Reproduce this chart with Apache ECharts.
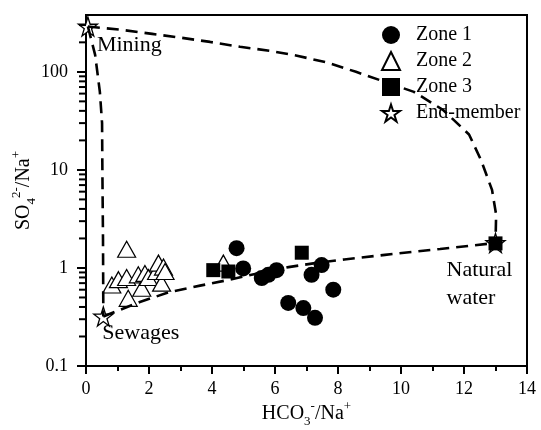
<!DOCTYPE html>
<html><head><meta charset="utf-8">
<script src="https://cdn.jsdelivr.net/npm/echarts@6/dist/echarts.min.js"></script>
<style>html,body{margin:0;padding:0;background:#fff}#c{width:541px;height:430px}</style>
</head><body><div id="c"></div>
<script>
// ---- data ----
const zone1 = [[4.78,1.59],[4.99,0.99],[5.58,0.79],[5.79,0.85],[6.05,0.95],[7.48,1.07],[7.16,0.85],[7.85,0.60],[6.42,0.44],[6.90,0.39],[7.27,0.31]];
const zone2 = [[1.29,1.55],[0.82,0.67],[1.03,0.76],[1.29,0.80],[1.34,0.49],[1.66,0.85],[1.77,0.62],[1.87,0.88],[1.98,0.80],[2.24,0.92],[2.30,1.12],[2.46,1.02],[2.40,0.70],[2.51,0.92],[4.36,1.12]];
const zone3 = [[4.04,0.95],[4.52,0.92],[6.85,1.43],[13.0,1.78]];
const endNames = ['Mining','Sewages','Natural\nwater'];
const endX = [0.06, 0.55, 13.0];
const endY = [290, 0.32, 1.8];
const mixMiningNatural = [[0.06,290],[1.14,268],[2.10,244],[3.05,222],[3.94,202],[4.89,180],[5.84,164],[6.70,146],[7.68,124],[8.57,100],[10.41,62.5],[11.33,41],[12.16,23],[12.54,12.6],[12.89,6.25],[13.02,3.5],[13.0,1.8]];
const mixMiningSewage = [[0.06,290],[0.29,149],[0.44,62.5],[0.51,30],[0.52,10],[0.54,1.93],[0.55,0.32]];
const mixSewageNatural = [[0.55,0.32],[1.71,0.45],[2.67,0.57],[3.62,0.66],[4.57,0.76],[5.52,0.89],[6.43,1.02],[7.27,1.12],[8.2,1.22],[9.49,1.36],[11.24,1.56],[13.0,1.8]];
const yTickValues = [0.1, 1, 10, 100];
const yTickLabels = ['0.1','1','10','100'];
const yMinorTicks = [0.2,0.3,0.4,0.5,0.6,0.7,0.8,0.9,2,3,4,5,6,7,8,9,20,30,40,50,60,70,80,90,200,300];
const legendNames = ['Zone 1','Zone 2','Zone 3','End-member'];

const FONT = 'Liberation Serif';
const STAR = 'path://M50,0 L61.2,34.5 L97.6,34.5 L68.2,55.9 L79.4,90.5 L50,69.1 L20.6,90.5 L31.8,55.9 L2.4,34.5 L38.8,34.5 Z';
const dash = {color:'#000', width:2.6, type:[12,7]};
const labelOffsets = [[9,19],[-1,17],[-49,41]];

const chart = echarts.init(document.getElementById('c'), null, {renderer:'canvas'});
const richName = {
  t:{fontFamily:FONT,fontSize:20,color:'#000',lineHeight:28},
  sub:{fontFamily:FONT,fontSize:13,color:'#000',lineHeight:28,verticalAlign:'bottom'},
  sup:{fontFamily:FONT,fontSize:13,color:'#000',lineHeight:28,verticalAlign:'top'}
};
chart.setOption({
  animation:false,
  backgroundColor:'#fff',
  grid:{left:86,right:14,top:15,bottom:64,containLabel:false,outerBoundsMode:'none',show:true,borderColor:'#000',borderWidth:2,backgroundColor:'transparent'},
  legend:{
    data:legendNames, orient:'vertical', left:376, top:20, itemWidth:18, itemHeight:18, itemGap:6,
    textStyle:{fontFamily:FONT,fontSize:20,color:'#000',padding:[0,0,0,11]}, selectedMode:false
  },
  xAxis:{
    type:'value', min:0, max:14, interval:2,
    name:'{t|HCO}{sub|3}{sup|-}{t|/Na}{sup|+}', nameLocation:'middle', nameGap:34, nameMoveOverlap:false,
    nameTextStyle:{rich:richName},
    axisLine:{show:true,lineStyle:{color:'#000',width:2}},
    axisTick:{show:true,inside:false,length:8,lineStyle:{color:'#000',width:2}},
    minorTick:{show:true,splitNumber:2,length:5,lineStyle:{color:'#000',width:2}},
    axisLabel:{fontFamily:FONT,fontSize:18,color:'#000',margin:14},
    splitLine:{show:false}
  },
  yAxis:{
    type:'log', logBase:10, min:0.1, max:380, splitLine:{show:false},
    name:'{t|SO}{sub|4}{sup|2-}{t|/Na}{sup|+}', nameLocation:'middle', nameGap:48, nameRotate:90, nameMoveOverlap:false,
    nameTextStyle:{rich:richName},
    axisLine:{show:true,lineStyle:{color:'#000',width:2}},
    axisTick:{show:true,inside:false,length:9,lineStyle:{color:'#000',width:2},customValues:yTickValues},
    axisLabel:{fontFamily:FONT,fontSize:18,color:'#000',margin:18,customValues:yTickValues,
      formatter:v=>{const i=yTickValues.findIndex(t=>Math.abs(Math.log10(t)-Math.log10(v))<1e-6);return i>=0?yTickLabels[i]:'';}}
  },
  series:[
    {name:'End-member',type:'scatter',z:1,symbol:STAR,symbolSize:19,
     itemStyle:{color:'#fff',borderColor:'#000',borderWidth:1.3,opacity:1},
     data:endX.map((x,i)=>({value:[x,endY[i]],label:{show:true,formatter:endNames[i],position:'inside',align:'left',verticalAlign:'middle',offset:labelOffsets[i],fontFamily:FONT,fontSize:22,lineHeight:28,color:'#000'}}))},
    {name:'Zone 2',type:'scatter',z:2,symbol:'triangle',symbolSize:[18,16],
     itemStyle:{color:'#fff',borderColor:'#000',borderWidth:1.2,opacity:1},data:zone2},
    {name:'Zone 1',type:'scatter',z:3,symbol:'circle',symbolSize:16,
     itemStyle:{color:'#000',opacity:1},data:zone1},
    {name:'Zone 3',type:'scatter',z:3,symbol:'rect',symbolSize:14,
     itemStyle:{color:'#000',opacity:1},data:zone3},
    {type:'line',z:5,silent:true,showSymbol:false,symbol:'none',lineStyle:dash,data:mixMiningNatural},
    {type:'line',z:5,silent:true,showSymbol:false,symbol:'none',lineStyle:dash,data:mixMiningSewage},
    {type:'line',z:5,silent:true,showSymbol:false,symbol:'none',lineStyle:dash,data:mixSewageNatural},
    // log-axis minor ticks (2..9 per decade) placed by the y scale, drawn just left of the axis
    {name:'yMinor',type:'scatter',z:20,silent:true,clip:false,symbol:'rect',symbolSize:[7,2],symbolOffset:[-3.5,0],
     itemStyle:{color:'#000',opacity:1},data:yMinorTicks.map(v=>[0,v])}
  ]
});
</script></body></html>
